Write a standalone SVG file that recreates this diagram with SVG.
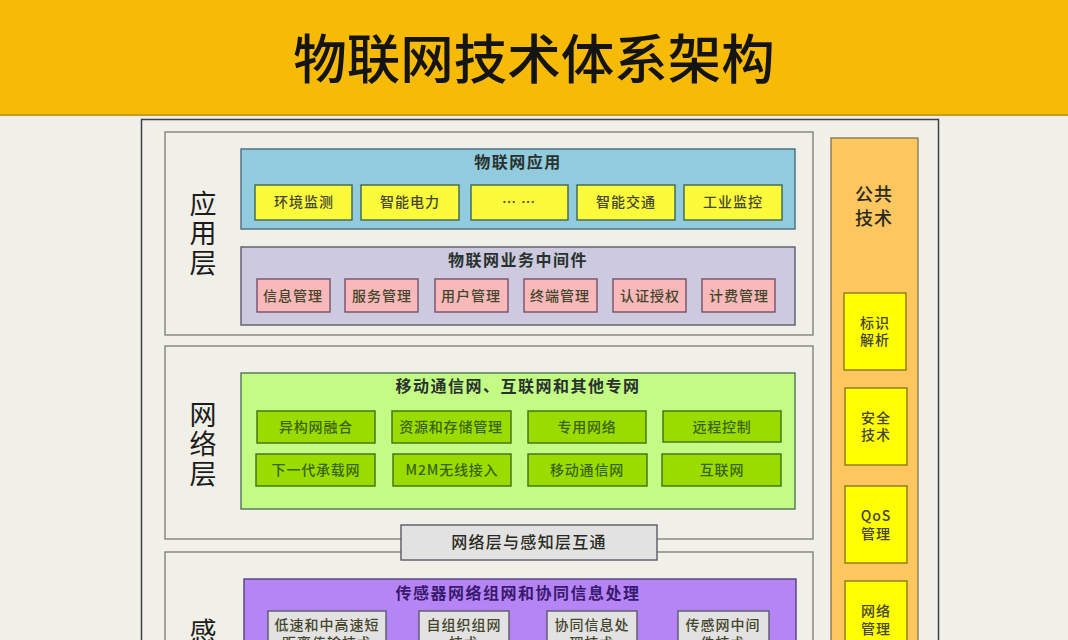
<svg xmlns="http://www.w3.org/2000/svg" width="1068" height="640" viewBox="0 0 1068 640">
<style>
text{font-family:"Noto Sans CJK SC","Liberation Sans",sans-serif;text-anchor:middle;fill:#2a2a22}
.t{font-size:16px;font-weight:700;letter-spacing:1.500px;fill:#28322e}
.s{font-size:14px;font-weight:500;letter-spacing:1px;fill:#45452c}
.g{font-size:14px;font-weight:500;letter-spacing:.8px;fill:#3a6406}
.l{font-size:27px;fill:#1c1c1c}
.f{fill:#f0efe8;stroke:#80837c;stroke-width:1.400}
.y{fill:#fbfb3c;stroke:#3d6650;stroke-width:1.400}
.p{fill:#f9b9bb;stroke:#75506a;stroke-width:1.400}
.n{fill:#9bdc00;stroke:#3f7010;stroke-width:1.400}
.w{fill:#e2e2e2;stroke:#5a5a6a;stroke-width:1.400}
.q{fill:#ffff00;stroke:#8a7a20;stroke-width:1.400}
</style>
<rect width="1068" height="640" fill="#f0efe8"/>
<g id="title"><rect x="0" y="0" width="1068" height="115" fill="#f8bb05"/><rect x="0" y="114" width="1068" height="2" fill="#c89a20"/><text x="534" y="79" style="font-size:53.500px;font-weight:500;fill:#141414">物联网技术体系架构</text></g>
<g id="frame"><rect x="141.500" y="119.500" width="797" height="530" fill="#f1f0e9" stroke="#3c3f48" stroke-width="1.500"/></g>
<g id="application-layer"><rect class="f" x="165" y="132" width="648" height="203"/><text class="l"><tspan x="203" y="214">应</tspan><tspan x="203" y="243">用</tspan><tspan x="203" y="273">层</tspan></text></g>
<g id="iot-app"><rect x="241" y="149" width="554" height="80" fill="#92cbde" stroke="#4a6c80" stroke-width="1.400"/><text class="t" x="518" y="168">物联网应用</text></g>
<g id="app1"><rect class="y" x="255" y="185" width="97" height="35"/><text class="s" x="304" y="207">环境监测</text></g>
<g id="app2"><rect class="y" x="361" y="185" width="98" height="35"/><text class="s" x="410" y="207">智能电力</text></g>
<g id="app3"><rect class="y" x="471" y="185" width="97" height="35"/><text class="s" x="519" y="207">… …</text></g>
<g id="app4"><rect class="y" x="577" y="185" width="98" height="35"/><text class="s" x="626" y="207">智能交通</text></g>
<g id="app5"><rect class="y" x="684" y="185" width="98" height="35"/><text class="s" x="733" y="207">工业监控</text></g>
<g id="middleware"><rect x="241" y="247" width="554" height="78" fill="#cdc9de" stroke="#5a5a70" stroke-width="1.400"/><text class="t" x="518" y="266">物联网业务中间件</text></g>
<g id="mw1"><rect class="p" x="257" y="279" width="73" height="33"/><text class="s" x="293" y="301">信息管理</text></g>
<g id="mw2"><rect class="p" x="345" y="279" width="73" height="33"/><text class="s" x="382" y="301">服务管理</text></g>
<g id="mw3"><rect class="p" x="435" y="279" width="73" height="33"/><text class="s" x="471" y="301">用户管理</text></g>
<g id="mw4"><rect class="p" x="524" y="279" width="73" height="33"/><text class="s" x="560" y="301">终端管理</text></g>
<g id="mw5"><rect class="p" x="613" y="279" width="73" height="33"/><text class="s" x="650" y="301">认证授权</text></g>
<g id="mw6"><rect class="p" x="702" y="279" width="73" height="33"/><text class="s" x="739" y="301">计费管理</text></g>
<g id="network-layer"><rect class="f" x="165" y="346" width="648" height="193"/><text class="l"><tspan x="203" y="425">网</tspan><tspan x="203" y="454">络</tspan><tspan x="203" y="484">层</tspan></text></g>
<g id="net-box"><rect x="241" y="373" width="554" height="136" fill="#c4fb84" stroke="#55705a" stroke-width="1.400"/><text class="t" x="518" y="392">移动通信网、互联网和其他专网</text></g>
<g id="n1"><rect class="n" x="257" y="411" width="118" height="32"/><text class="g" x="316" y="432">异构网融合</text></g>
<g id="n2"><rect class="n" x="392" y="411" width="119" height="32"/><text class="g" x="451" y="432">资源和存储管理</text></g>
<g id="n3"><rect class="n" x="528" y="411" width="118" height="32"/><text class="g" x="587" y="432">专用网络</text></g>
<g id="n4"><rect class="n" x="663" y="411" width="118" height="31"/><text class="g" x="722" y="432">远程控制</text></g>
<g id="n5"><rect class="n" x="256" y="454" width="119" height="32"/><text class="g" x="316" y="475">下一代承载网</text></g>
<g id="n6"><rect class="n" x="393" y="454" width="118" height="32"/><text class="g" x="452" y="475">M2M无线接入</text></g>
<g id="n7"><rect class="n" x="528" y="454" width="119" height="32"/><text class="g" x="587" y="475">移动通信网</text></g>
<g id="n8"><rect class="n" x="662" y="454" width="119" height="32"/><text class="g" x="722" y="475">互联网</text></g>
<g id="sense-layer"><rect class="f" x="165" y="552" width="648" height="110"/><text class="l" x="203" y="642">感</text></g>
<g id="interconnect"><rect class="w" x="401" y="525" width="256" height="35"/><text x="529" y="548" style="font-size:16px;font-weight:500;letter-spacing:1.300px">网络层与感知层互通</text></g>
<g id="sensor-box"><rect x="244" y="579" width="552" height="80" fill="#b685f5" stroke="#55407a" stroke-width="1.400"/><text class="t" x="518" y="599" style="fill:#3a1a70">传感器网络组网和协同信息处理</text></g>
<g id="s1"><rect class="w" x="268" y="611" width="118" height="50"/><text class="s"><tspan x="327" y="630">低速和中高速短</tspan><tspan x="327" y="648">距离传输技术</tspan></text></g>
<g id="s2"><rect class="w" x="419" y="611" width="90" height="50"/><text class="s"><tspan x="464" y="630">自组织组网</tspan><tspan x="464" y="648">技术</tspan></text></g>
<g id="s3"><rect class="w" x="547" y="611" width="90" height="50"/><text class="s"><tspan x="592" y="630">协同信息处</tspan><tspan x="592" y="648">理技术</tspan></text></g>
<g id="s4"><rect class="w" x="678" y="611" width="91" height="50"/><text class="s"><tspan x="723" y="630">传感网中间</tspan><tspan x="723" y="648">件技术</tspan></text></g>
<g id="public"><rect x="831" y="138" width="87" height="520" fill="#fdc65e" stroke="#8a7a50" stroke-width="1.400"/><text style="font-size:18px;font-weight:500;letter-spacing:1px"><tspan x="874" y="201">公共</tspan><tspan x="874" y="225">技术</tspan></text></g>
<g id="p1"><rect class="q" x="844" y="293" width="62" height="77"/><text class="s"><tspan x="875" y="328">标识</tspan><tspan x="875" y="345">解析</tspan></text></g>
<g id="p2"><rect class="q" x="845" y="388" width="62" height="77"/><text class="s"><tspan x="876" y="423">安全</tspan><tspan x="876" y="440">技术</tspan></text></g>
<g id="p3"><rect class="q" x="845" y="486" width="62" height="77"/><text class="s"><tspan x="876" y="521">QoS</tspan><tspan x="876" y="539">管理</tspan></text></g>
<g id="p4"><rect class="q" x="845" y="581" width="62" height="77"/><text class="s"><tspan x="876" y="616">网络</tspan><tspan x="876" y="634">管理</tspan></text></g>
</svg>
